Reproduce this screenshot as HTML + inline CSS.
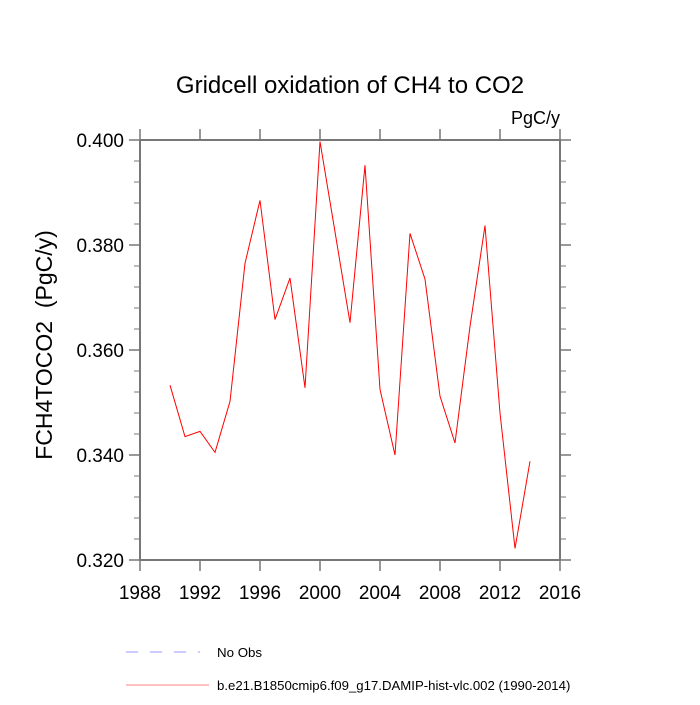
<!DOCTYPE html>
<html><head><meta charset="utf-8"><style>
body{margin:0;background:#fff}
svg text{font-family:"Liberation Sans",sans-serif;white-space:pre}
</style></head><body>
<svg width="700" height="700" viewBox="0 0 700 700">
<text x="350" y="93" font-size="24" text-anchor="middle">Gridcell oxidation of CH4 to CO2</text>
<text x="560" y="124" font-size="18" text-anchor="end">PgC/y</text>
<text transform="translate(52,345) rotate(-90)" font-size="23" text-anchor="middle">FCH4TOCO2  (PgC/y)</text>
<g id="axes"></g>
<polyline id="line" fill="none" stroke="#ff0000" stroke-width="1"/>
<line x1="126" y1="652" x2="200" y2="652" stroke="#9999ff" stroke-width="1" stroke-dasharray="12,12"/>
<text x="217" y="657" font-size="13.3">No Obs</text>
<line x1="126" y1="685" x2="209" y2="685" stroke="#ff8080" stroke-width="1"/>
<text x="217" y="690" font-size="13.2">b.e21.B1850cmip6.f09_g17.DAMIP-hist-vlc.002 (1990-2014)</text>
</svg>
<script>
const years=[1990,1991,1992,1993,1994,1995,1996,1997,1998,1999,2000,2001,2002,2003,2004,2005,2006,2007,2008,2009,2010,2011,2012,2013,2014];
const values=[0.3533,0.3435,0.3445,0.3405,0.3502,0.3765,0.3885,0.3658,0.3737,0.3528,0.3997,0.3825,0.3652,0.3952,0.3525,0.3400,0.3822,0.3735,0.3512,0.3423,0.3645,0.3837,0.3480,0.3222,0.3388];
const xTicks=[1988,1992,1996,2000,2004,2008,2012,2016];
const yTicks=[0.32,0.34,0.36,0.38,0.40];
const yTickLabels=["0.320","0.340","0.360","0.380","0.400"];
const X0=140,X1=560,Y0=560,Y1=140,xmin=1988,xmax=2016,ymin=0.32,ymax=0.40;
const sx=v=>X0+(v-xmin)/(xmax-xmin)*(X1-X0);
const sy=v=>Y0-(v-ymin)/(ymax-ymin)*(Y0-Y1);
const NS="http://www.w3.org/2000/svg";
const g=document.getElementById('axes');
function ln(x1,y1,x2,y2,name,w){const l=document.createElementNS(NS,'line');l.setAttribute('x1',x1);l.setAttribute('y1',y1);l.setAttribute('x2',x2);l.setAttribute('y2',y2);l.setAttribute('stroke','#777');l.setAttribute('stroke-width',w||1.5);


g.appendChild(l);}
function tx(x,y,s,anchor,name){const t=document.createElementNS(NS,'text');t.setAttribute('x',x);t.setAttribute('y',y);t.setAttribute('font-size','19');t.setAttribute('text-anchor',anchor);t.textContent=s;


g.appendChild(t);}
ln(X0,Y1,X1,Y1,'plot-border-top',2);ln(X0,Y0,X1,Y0,'plot-border-bottom',2);
ln(X0,Y1,X0,Y0,'plot-border-left',2);ln(X1,Y1,X1,Y0,'plot-border-right',2);
xTicks.forEach(v=>{const x=sx(v);ln(x,Y0,x,Y0+11,'x-tick');ln(x,Y1,x,Y1-11,'x-tick-top');tx(x,Y0+39,String(v),'middle','x-tick-label');});
yTicks.forEach((v,i)=>{const y=sy(v);ln(X0,y,X0-11,y,'y-tick');ln(X1,y,X1+11,y,'y-tick-right');tx(X0-16,y+7,yTickLabels[i],'end','y-tick-label');
if(i<yTicks.length-1){for(let k=1;k<5;k++){const ym=sy(v+k*(yTicks[1]-yTicks[0])/5);ln(X0,ym,X0-6,ym,'y-minor-tick',1);ln(X1,ym,X1+6,ym,'y-minor-tick-right',1);}}});
document.getElementById('line').setAttribute('points',years.map((y,i)=>sx(y)+','+sy(values[i])).join(' '));
</script>
</body></html>
